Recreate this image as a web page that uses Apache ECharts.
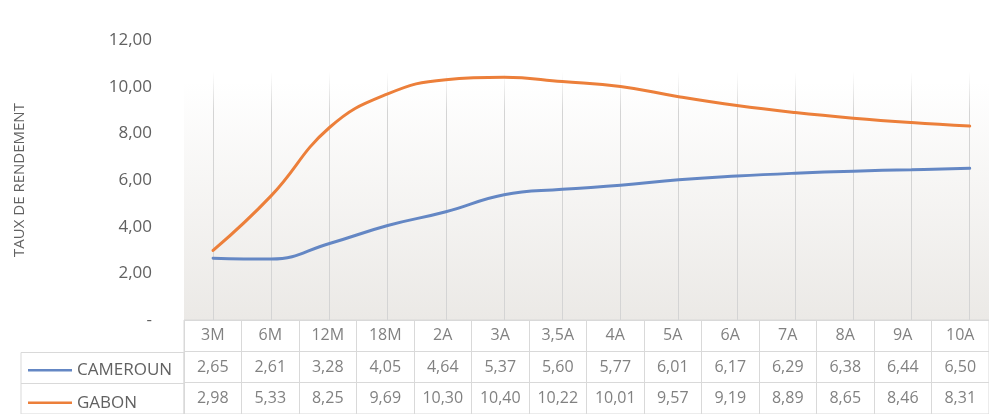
<!DOCTYPE html>
<html>
<head>
<meta charset="utf-8">
<script src="https://cdn.jsdelivr.net/npm/echarts@6/dist/echarts.min.js"></script>
<style>
  html, body { margin: 0; padding: 0; background: #ffffff; }
  #chart { width: 989px; height: 414px; }
</style>
</head>
<body>
<div id="chart"></div>
<script>
// Yield curves by maturity
const categories = ['3M', '6M', '12M', '18M', '2A', '3A', '3,5A', '4A', '5A', '6A', '7A', '8A', '9A', '10A'];
const cameroun = [2.65, 2.61, 3.28, 4.05, 4.64, 5.37, 5.60, 5.77, 6.01, 6.17, 6.29, 6.38, 6.44, 6.50];
const gabon = [2.98, 5.33, 8.25, 9.69, 10.30, 10.40, 10.22, 10.01, 9.57, 9.19, 8.89, 8.65, 8.46, 8.31];
const seriesNames = ['CAMEROUN', 'GABON'];
const yAxisTitle = 'TAUX DE RENDEMENT';
const yMin = 0, yMax = 12, yStep = 2;

const FONT = 'Open Sans';
const TEXT = '#616161';
const BORDER = '#d9d9d9';
const COLORS = ['#6487c4', '#ec7f3a'];

// French-style number: comma decimal, dash for zero
const fmt = v => (v === 0 ? '-' : v.toFixed(2).replace('.', ','));

// Geometry of the plot + data table
const colW = 58.2;
const tableLeft = 184;
const tableW = colW * categories.length;
const plotTop = 40, plotH = 280;
const rowH = 32.5;
const tableTop = plotTop + plotH;

const chart = echarts.init(document.getElementById('chart'), null, { renderer: 'canvas' });

const hidden = { show: false };
const tableCellLabel = {
  show: true, position: 'inside', formatter: '{b}',
  color: TEXT, fontFamily: FONT, fontSize: 16
};

const cellsFor = (values, row) => values.map((v, i) => ({ value: [i, row], name: fmt(v) }));

// one legend per table row, aligned on the row centre
const rowLegend = (name, row) => ({
  data: [name],
  left: 28,
  top: tableTop + rowH * row + rowH / 2 - 7,
  padding: 0,
  itemWidth: 44,
  itemHeight: 14,
  icon: 'path://M0,6h44v2.6h-44z',
  textStyle: { color: TEXT, fontFamily: FONT, fontSize: 17 },
  selectedMode: false
});

const option = {
  animation: false,
  textStyle: { fontFamily: FONT },
  grid: [
    // 0: plot background + value axis labels
    { left: tableLeft, top: plotTop, width: tableW, height: plotH, show: true, borderWidth: 0,
      backgroundColor: new echarts.graphic.LinearGradient(0, 0, 0, 1, [
        { offset: 0, color: '#ffffff' },
        { offset: 0.15, color: '#ffffff' },
        { offset: 1, color: '#ebe9e6' }
      ]) },
    // 1: curves, category centres
    { left: tableLeft + colW / 2, top: plotTop, width: colW * (categories.length - 1), height: plotH },
    // 2: data table body
    { left: tableLeft, top: tableTop, width: tableW, height: rowH * 3, show: true,
      borderColor: BORDER, borderWidth: 1, backgroundColor: 'transparent' },
    // 3: series name column
    { left: 21, top: tableTop + rowH, width: tableLeft - 21, height: rowH * 2, show: true,
      borderColor: BORDER, borderWidth: 1, backgroundColor: 'transparent' }
  ],
  xAxis: [
    { gridIndex: 0, type: 'category', data: categories, show: false },
    { gridIndex: 1, type: 'category', data: categories, boundaryGap: false,
      axisLine: hidden, axisTick: hidden, axisLabel: hidden,
      splitLine: { show: true, lineStyle: { width: 1,
        color: new echarts.graphic.LinearGradient(0, 0, 0, 1, [
          { offset: 0, color: 'rgba(212,212,212,0)' },
          { offset: 0.12, color: 'rgba(212,212,212,0)' },
          { offset: 0.26, color: 'rgba(212,212,212,1)' },
          { offset: 1, color: 'rgba(212,212,212,1)' }
        ]) } } },
    { gridIndex: 2, type: 'category', data: categories, boundaryGap: true,
      axisLine: hidden, axisTick: hidden, axisLabel: hidden,
      splitLine: { show: true, lineStyle: { color: BORDER, width: 1 } } },
    { gridIndex: 3, type: 'value', show: false }
  ],
  yAxis: [
    { gridIndex: 0, type: 'value', min: yMin, max: yMax, interval: yStep,
      axisLine: hidden, axisTick: hidden, splitLine: hidden,
      axisLabel: { formatter: fmt, color: TEXT, fontFamily: FONT, fontSize: 17, margin: 32 },
      name: yAxisTitle, nameLocation: 'middle', nameRotate: 90, nameGap: 157,
      nameTextStyle: { color: TEXT, fontFamily: FONT, fontSize: 15 } },
    { gridIndex: 1, type: 'value', min: yMin, max: yMax, interval: yStep, show: false },
    { gridIndex: 2, type: 'category', data: ['', ...seriesNames], inverse: true,
      axisLine: hidden, axisTick: hidden, axisLabel: hidden,
      splitLine: { show: true, lineStyle: { color: BORDER, width: 1 } } },
    { gridIndex: 3, type: 'category', data: seriesNames, inverse: true,
      axisLine: hidden, axisTick: hidden, axisLabel: hidden,
      splitLine: { show: true, lineStyle: { color: BORDER, width: 1 } } }
  ],
  legend: [rowLegend(seriesNames[0], 1), rowLegend(seriesNames[1], 2)],
  series: [
    { name: seriesNames[0], type: 'line', xAxisIndex: 1, yAxisIndex: 1, data: cameroun,
      smooth: 0.45, symbol: 'none', color: COLORS[0],
      lineStyle: { width: 3, color: COLORS[0], cap: 'round' } },
    { name: seriesNames[1], type: 'line', xAxisIndex: 1, yAxisIndex: 1, data: gabon,
      smooth: 0.45, symbol: 'none', color: COLORS[1],
      lineStyle: { width: 3, color: COLORS[1], cap: 'round' } },
    // table header row: maturities
    { name: 'header', type: 'scatter', xAxisIndex: 2, yAxisIndex: 2, symbolSize: 1,
      itemStyle: { color: 'rgba(0,0,0,0)' }, label: tableCellLabel, silent: true,
      data: categories.map((c, i) => ({ value: [i, 0], name: c })) },
    // table rows: values per series
    { name: 'row-cameroun', type: 'scatter', xAxisIndex: 2, yAxisIndex: 2, symbolSize: 1,
      itemStyle: { color: 'rgba(0,0,0,0)' }, label: tableCellLabel, silent: true,
      data: cellsFor(cameroun, 1) },
    { name: 'row-gabon', type: 'scatter', xAxisIndex: 2, yAxisIndex: 2, symbolSize: 1,
      itemStyle: { color: 'rgba(0,0,0,0)' }, label: tableCellLabel, silent: true,
      data: cellsFor(gabon, 2) }
  ]
};

chart.setOption(option);
</script>
</body>
</html>
